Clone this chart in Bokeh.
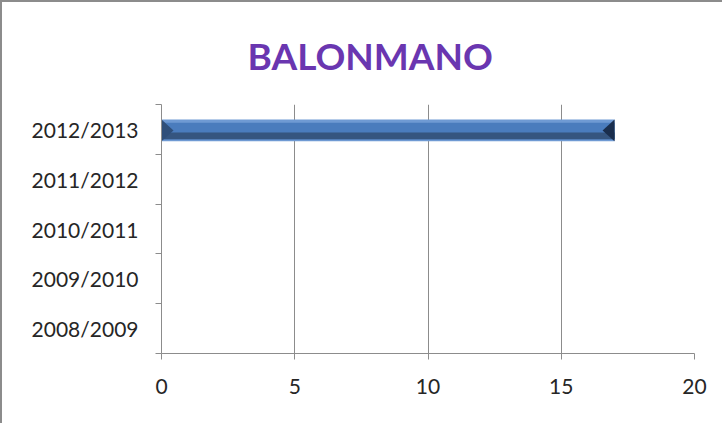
from bokeh.plotting import figure
from bokeh.models import FixedTicker, Title, Range1d
from bokeh.embed import file_html
from bokeh.resources import INLINE

# Data
seasons = ["2008/2009", "2009/2010", "2010/2011", "2011/2012", "2012/2013"]
values = [0, 0, 0, 0, 17]
x_ticks = [0, 5, 10, 15, 20]
title_text = "BALONMANO"

idx = [i + 0.5 for i in range(len(seasons))]
shown_y = [y for y, v in zip(idx, values) if v > 0]
shown_v = [v for v in values if v > 0]

W, H = 722, 423
BL, BR, BT, BB = 159, 30, 102, 72
p = figure(width=W, height=H, output_backend="svg", toolbar_location=None,
           x_range=Range1d(0, 20), y_range=Range1d(0, len(seasons)),
           min_border_left=BL, min_border_right=BR, min_border_top=BT,
           min_border_bottom=BB)
p.outline_line_color = None
p.background_fill_color = "white"
p.border_fill_color = "white"
p.styles = {"border-left": "2px solid #8c8c8c", "border-top": "2px solid #8c8c8c"}

# Bar with bevel-like shading
p.hbar(y=[y - 0.02 for y in shown_y], left=0, right=shown_v, height=0.44,
       fill_color="#6f9ad3", line_color=None)
p.hbar(y=[y - 0.035 for y in shown_y], left=0, right=shown_v, height=0.34,
       fill_color="#4a7cbd", line_color=None)
p.hbar(y=[y - 0.13 for y in shown_y], left=0, right=shown_v, height=0.14,
       fill_color="#35557f", line_color=None)
# bevel ends
for y, v in zip(shown_y, shown_v):
    p.patch([0, 0.45, 0], [y - 0.24, y - 0.02, y + 0.2], fill_color="#2f4f7a", line_color=None)
    p.patch([v, v - 0.45, v], [y - 0.24, y - 0.02, y + 0.2], fill_color="#1a2e4d", line_color=None)

# Axes
p.xaxis.ticker = FixedTicker(ticks=x_ticks)
p.xaxis.axis_line_color = "#8c8c8c"
p.xaxis.major_tick_line_color = "#8c8c8c"
p.xaxis.major_tick_out = 6
p.xaxis.major_tick_in = 0
p.xaxis.minor_tick_line_color = None
p.xaxis.major_label_standoff = 19
p.xaxis.major_label_text_font = "Lato"
p.xaxis.major_label_text_font_size = "21px"
p.xaxis.major_label_text_color = "#262626"

p.yaxis.ticker = FixedTicker(ticks=idx, minor_ticks=list(range(len(seasons) + 1)))
p.yaxis.major_label_overrides = {y: s for y, s in zip(idx, seasons)}
p.yaxis.axis_line_color = "#8c8c8c"
p.yaxis.major_tick_line_color = None
p.yaxis.major_tick_out = 0
p.yaxis.major_tick_in = 0
p.yaxis.minor_tick_line_color = "#8c8c8c"
p.yaxis.minor_tick_out = 6
p.yaxis.minor_tick_in = 0
p.yaxis.major_label_standoff = 17
p.yaxis.major_label_text_font = "Lato"
p.yaxis.major_label_text_font_size = "21px"
p.yaxis.major_label_text_color = "#262626"

p.xgrid.ticker = FixedTicker(ticks=x_ticks[1:])
p.xgrid.grid_line_color = "#8c8c8c"
p.ygrid.grid_line_color = None

# Title
p.add_layout(Title(text=title_text, align="left", offset=86, standoff=54,
                   text_font="Lato", text_font_style="bold", text_font_size="37px",
                   text_color="#6a36b0"), "above")

open("out.html", "w").write(file_html(p, INLINE))
